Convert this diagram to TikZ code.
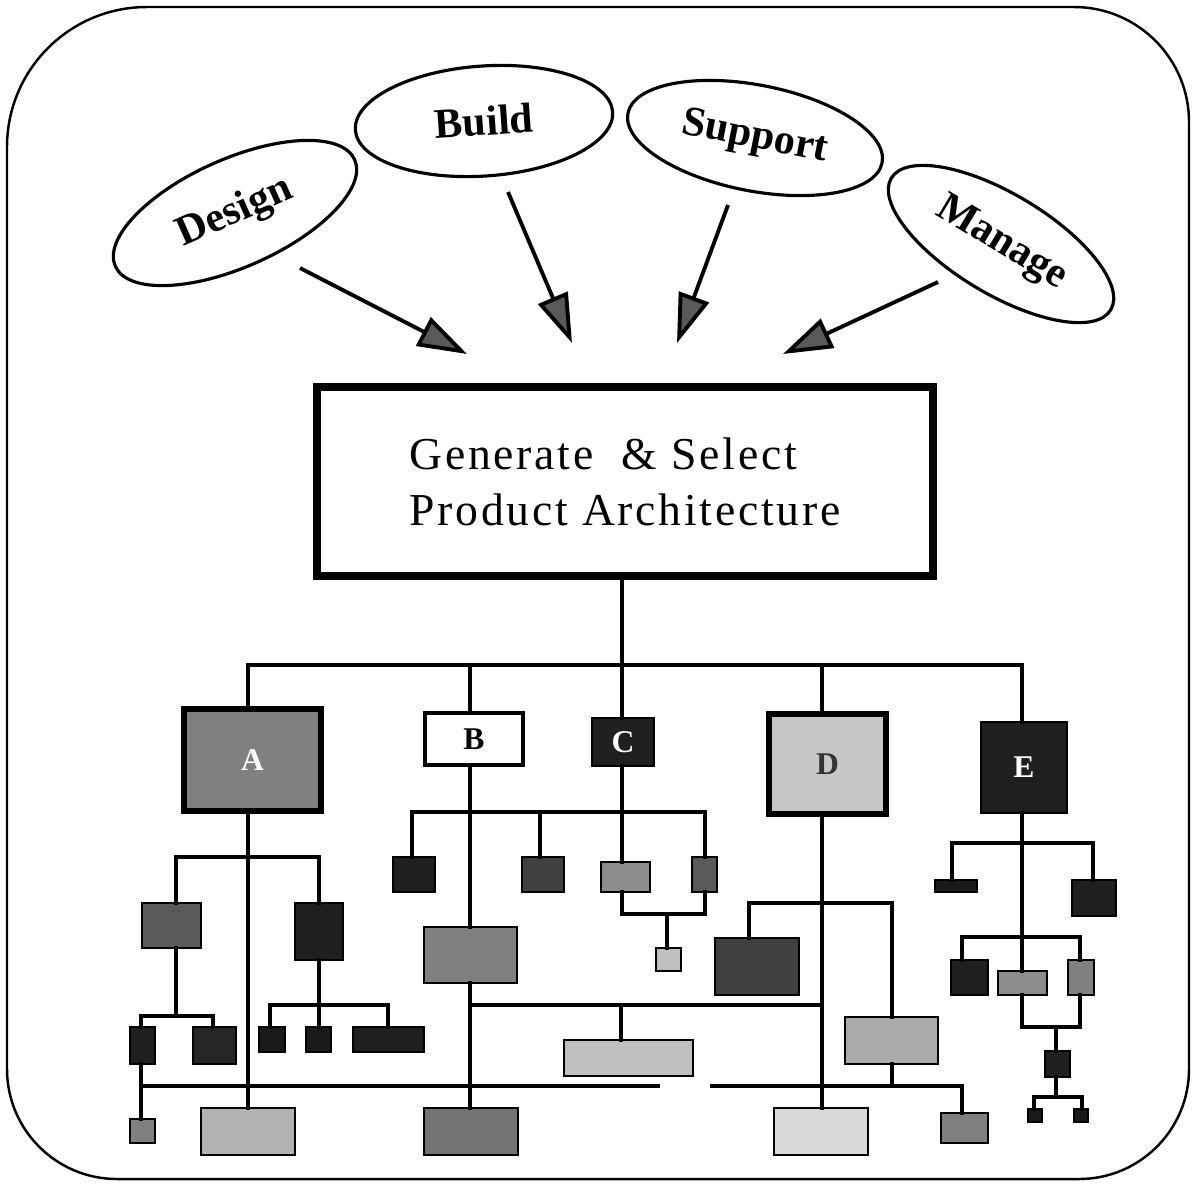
\documentclass[tikz,border=0pt]{standalone}
\usepackage{fontspec}
\setmainfont{Liberation Serif}
\newfontfamily\titlefont[LetterSpace=6]{Liberation Serif}
\usetikzlibrary{shapes.geometric,arrows.meta}

% one pixel-like unit per coordinate step, y growing downwards
\tikzset{
  x=0.02cm, y=-0.02cm,
  frame/.style={line width=1.4pt},
  bubble/.style={ellipse, draw, line width=1.8pt, inner sep=0pt, outer sep=0pt,
    font=\bfseries\fontsize{24}{24}\selectfont},
  mainbox/.style={draw, line width=4.8pt, inner sep=0pt, outer sep=0pt, align=left,
    font=\titlefont\fontsize{26}{32}\selectfont},
  blk/.style={draw, line width=1.4pt, inner sep=0pt, outer sep=0pt},
  heavy/.style={blk, line width=3.4pt},
  tag/.style={font=\bfseries\fontsize{18}{18}\selectfont},
  conn/.style={line width=2pt, line cap=rect},
  arr/.style={line width=2.2pt, -{Triangle[length=28pt,width=18pt,fill=black!65]}}
}

% box from its left, top, right and bottom edges
\newcommand\bx[7]{%
  \node[#6, minimum width={(#4-#2)*0.02cm}, minimum height={(#5-#3)*0.02cm}]
    (#1) at ({(#2+#4)/2},{(#3+#5)/2}) {#7};}

\begin{document}
\begin{tikzpicture}
\useasboundingbox (0,0) rectangle (1196,1184);
\fill[white] (0,0) rectangle (1196,1184);

% rounded outer frame
\draw[frame] (600,7) [rounded corners=2.3cm] -| (1189,600)
  [rounded corners=2.2cm] |- (600,1179) -| (7,600)
  [rounded corners=2.8cm] |- (600,7);

% the four activities
\node[bubble, minimum width=5.24cm, minimum height=2.16cm, rotate=24] (design) at (235,213) {Design};
\node[bubble, minimum width=5.16cm, minimum height=2.2cm, rotate=4] (build) at (484,121) {Build};
\node[bubble, minimum width=5.18cm, minimum height=2.12cm, rotate=-11] (support) at (755,138) {Support};
\node[bubble, minimum width=5.12cm, minimum height=2.0cm, rotate=-31] (manage) at (1001,244) {Manage};

\coordinate (s1) at (300,268); \coordinate (t1) at (467,354);
\coordinate (s2) at (508,192); \coordinate (t2) at (572,343);
\coordinate (s3) at (728,205); \coordinate (t3) at (677,343);
\coordinate (s4) at (938,282); \coordinate (t4) at (783,354);
\draw[arr] (s1) -- (t1);
\draw[arr] (s2) -- (t2);
\draw[arr] (s3) -- (t3);
\draw[arr] (s4) -- (t4);

% central decision box
\bx{main}{317}{387}{933}{576}{mainbox}{Generate\ \ \& Select\\Product Architecture}

% first level modules
\bx{A}{184}{709}{321}{811}{heavy, fill=black!50, tag, text=white}{A}
\bx{B}{425}{713}{523}{765}{blk, line width=2.8pt, fill=white, tag}{B}
\bx{C}{592}{718}{654}{766}{blk, fill=black!88, tag, text=white}{C}
\bx{D}{769}{714}{886}{814}{heavy, fill=black!22, tag, text=black!80}{D}
\bx{E}{981}{722}{1067}{813}{blk, fill=black!88, tag, text=white}{E}

% branch A
\bx{a1}{142}{903}{201}{948}{blk, fill=black!65}{}
\bx{a2}{295}{903}{343}{960}{blk, fill=black!88}{}
\bx{a11}{130}{1027}{155}{1064}{blk, fill=black!88}{}
\bx{a12}{193}{1027}{236}{1064}{blk, fill=black!85}{}
\bx{a111}{130}{1119}{155}{1143}{blk, fill=black!50}{}
\bx{a21}{259}{1027}{285}{1052}{blk, fill=black!90}{}
\bx{a22}{306}{1027}{331}{1052}{blk, fill=black!90}{}
\bx{a23}{353}{1027}{424}{1052}{blk, fill=black!88}{}
\bx{abot}{201}{1108}{295}{1155}{blk, fill=black!30}{}

% branches B and C
\bx{b1}{393}{857}{435}{892}{blk, fill=black!88}{}
\bx{b2}{522}{857}{564}{892}{blk, fill=black!75}{}
\bx{c1}{601}{862}{650}{892}{blk, fill=black!45}{}
\bx{b3}{692}{857}{717}{892}{blk, fill=black!65}{}
\bx{b31}{656}{948}{681}{971}{blk, fill=black!25}{}
\bx{bmid}{424}{927}{517}{983}{blk, fill=black!50}{}
\bx{bm1}{564}{1040}{693}{1076}{blk, fill=black!25}{}
\bx{bbot}{424}{1108}{518}{1155}{blk, fill=black!55}{}

% branch D
\bx{d1}{715}{938}{799}{995}{blk, fill=black!75}{}
\bx{d2}{845}{1017}{938}{1064}{blk, fill=black!33}{}
\bx{dbot}{774}{1108}{868}{1155}{blk, fill=black!15}{}
\bx{d3}{941}{1113}{988}{1143}{blk, fill=black!50}{}

% branch E
\bx{e1}{935}{880}{977}{892}{blk, fill=black!90}{}
\bx{e2}{1072}{880}{1116}{916}{blk, fill=black!88}{}
\bx{e3}{951}{960}{988}{995}{blk, fill=black!88}{}
\bx{e4}{998}{971}{1047}{995}{blk, fill=black!45}{}
\bx{e5}{1068}{960}{1094}{995}{blk, fill=black!50}{}
\bx{e6}{1045}{1051}{1070}{1077}{blk, fill=black!88}{}
\bx{e7}{1028}{1109}{1042}{1122}{blk, fill=black!90}{}
\bx{e8}{1074}{1109}{1088}{1122}{blk, fill=black!90}{}

% junction points
\coordinate (jt) at (622,665);
\coordinate (jA) at (248,665);
\coordinate (jB) at (470,665);
\coordinate (jD) at (822,665);
\coordinate (jE) at (1022,665);

% top distribution bus
\draw[conn] (main.south -| jt) -- (jt);
\draw[conn] (jA |- A.north) -- (jA) -- (jE) -- (jE |- E.north);
\draw[conn] (jB) -- (jB |- B.north);
\draw[conn] (jt) -- (jt |- C.north);
\draw[conn] (jD) -- (jD |- D.north);

% under A
\coordinate (ja) at (248,857);
\coordinate (ja1) at (176,857);
\coordinate (ja2) at (319,857);
\draw[conn] (A.south -| ja) -- (ja |- abot.north);
\draw[conn] (ja1 |- a1.north) -- (ja1) -- (ja2) -- (ja2 |- a2.north);
\coordinate (ja3) at (176,1016);
\coordinate (ja11) at (141,1016);
\coordinate (ja12) at (213,1016);
\draw[conn] (ja3 |- a1.south) -- (ja3);
\draw[conn] (ja11 |- a11.north) -- (ja11) -- (ja12) -- (ja12 |- a12.north);
\draw[conn] (ja11 |- a11.south) -- (ja11 |- a111.north);
\coordinate (ja4) at (319,1005);
\coordinate (ja21) at (270,1005);
\coordinate (ja23) at (388,1005);
\draw[conn] (ja4 |- a2.south) -- (ja4 |- a22.north);
\draw[conn] (ja21 |- a21.north) -- (ja21) -- (ja23) -- (ja23 |- a23.north);

% under B and C
\coordinate (jb) at (470,812);
\coordinate (jb1) at (412,812);
\coordinate (jb2) at (540,812);
\coordinate (jb3) at (705,812);
\coordinate (jc) at (622,812);
\draw[conn] (B.south -| jb) -- (jb |- bmid.north);
\draw[conn] (jb1 |- b1.north) -- (jb1) -- (jb3) -- (jb3 |- b3.north);
\draw[conn] (jb2) -- (jb2 |- b2.north);
\draw[conn] (C.south -| jc) -- (jc |- c1.north);
\coordinate (jc1) at (622,914);
\coordinate (jc2) at (705,914);
\coordinate (jc3) at (667,914);
\draw[conn] (c1.south -| jc1) -- (jc1) -- (jc2) -- (b3.south -| jc2);
\draw[conn] (jc3) -- (jc3 |- b31.north);
\coordinate (jm) at (470,1005);
\coordinate (jm1) at (621,1005);
\coordinate (jm2) at (822,1005);
\draw[conn] (bmid.south -| jm) -- (jm |- bbot.north);
\draw[conn] (jm) -- (jm2);
\draw[conn] (jm1) -- (jm1 |- bm1.north);

% under D
\coordinate (jd) at (822,903);
\coordinate (jd1) at (749,903);
\coordinate (jd2) at (892,903);
\draw[conn] (D.south -| jd) -- (jd |- dbot.north);
\draw[conn] (jd1 |- d1.north) -- (jd1) -- (jd2) -- (jd2 |- d2.north);
\coordinate (jd3) at (892,1086);
\draw[conn] (d2.south -| jd3) -- (jd3);

% long lower bus
\coordinate (jL) at (141,1086);
\coordinate (gapL) at (658,1086);
\coordinate (gapR) at (712,1086);
\coordinate (jR) at (962,1086);
\draw[conn] (jL) -- (gapL);
\draw[conn] (gapR) -- (jR) -- (jR |- d3.north);

% under E
\coordinate (je) at (1022,843);
\coordinate (je1) at (952,843);
\coordinate (je2) at (1093,843);
\draw[conn] (E.south -| je) -- (je |- e4.north);
\draw[conn] (je1 |- e1.north) -- (je1) -- (je2) -- (je2 |- e2.north);
\coordinate (jf1) at (962,937);
\coordinate (jf2) at (1080,937);
\draw[conn] (jf1 |- e3.north) -- (jf1) -- (jf2) -- (jf2 |- e5.north);
\coordinate (jg1) at (1022,1027);
\coordinate (jg2) at (1080,1027);
\coordinate (jg3) at (1056,1027);
\draw[conn] (e4.south -| jg1) -- (jg1) -- (jg2) -- (e5.south -| jg2);
\draw[conn] (jg3) -- (jg3 |- e6.north);
\coordinate (jh) at (1056,1097);
\coordinate (jh1) at (1034,1097);
\coordinate (jh2) at (1082,1097);
\draw[conn] (e6.south -| jh) -- (jh);
\draw[conn] (jh1 |- e7.north) -- (jh1) -- (jh2) -- (jh2 |- e8.north);
\end{tikzpicture}
\end{document}
